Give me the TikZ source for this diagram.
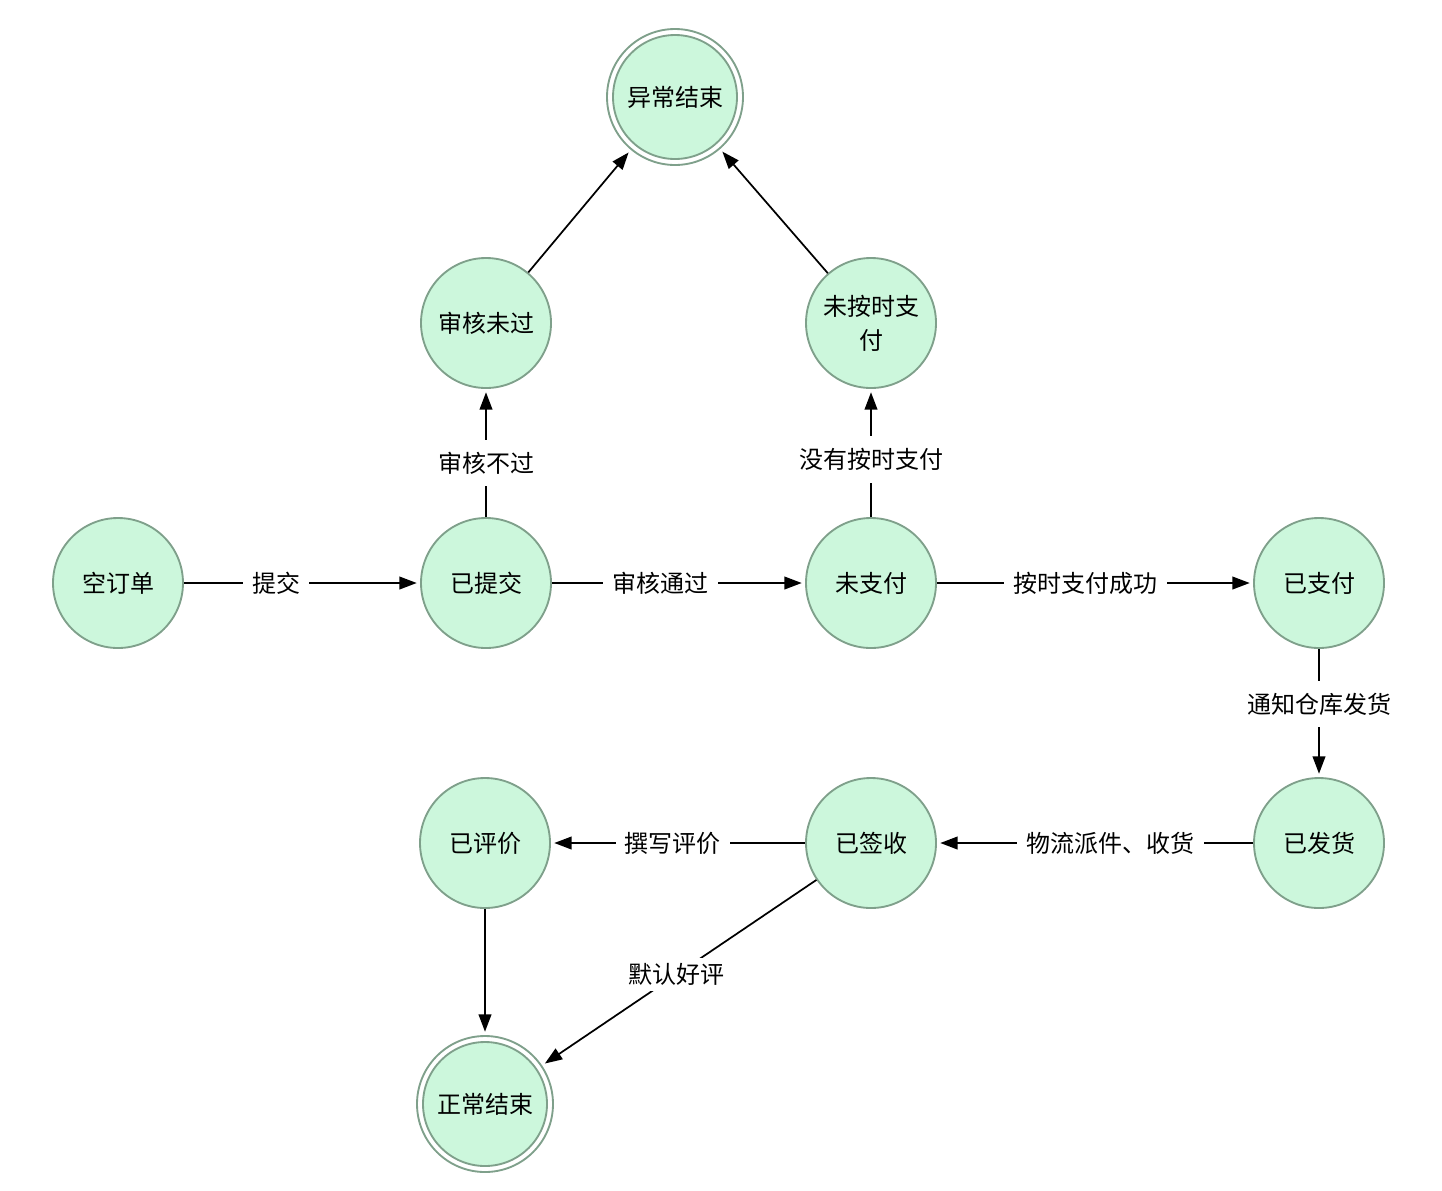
\documentclass[tikz,border=0pt]{standalone}
\usepackage{fontspec}
\setmainfont{Noto Sans CJK SC}
\usetikzlibrary{arrows.meta}
\definecolor{nodefill}{HTML}{CCF7DC}
\definecolor{nodeline}{HTML}{7FA08B}
\begin{document}
\begin{tikzpicture}[x=0.75pt,y=-0.75pt,
  every node/.style={font=\fontsize{18pt}{25.5pt}\selectfont},
  state/.style={circle,draw=nodeline,fill=nodefill,line width=1.4pt,minimum size=97.5pt,inner sep=0pt,align=center},
  outerring/.style={circle,draw=nodeline,fill=white,line width=1.4pt,minimum size=102pt,inner sep=0pt},
  innerstate/.style={state,minimum size=93pt},
  conn/.style={line width=1.3pt,-{Triangle[length=13pt,width=9.5pt]},shorten >=2.5pt},
  lbl/.style={fill=white,inner xsep=7pt,inner ysep=9pt}]
\useasboundingbox (0,0) rectangle (1442,1190);
\node[outerring] (ab) at (675,97) {};
\node[innerstate] (abin) at (675,97) {异常结束};
\node[state] (shwg) at (486,323) {审核未过};
\node[state] (wazf) at (871,323) {未按时支\\付};
\node[state] (kdd) at (118,583) {空订单};
\node[state] (ytj) at (486,583) {已提交};
\node[state] (wzf) at (871,583) {未支付};
\node[state] (yzf) at (1319,583) {已支付};
\node[state] (yfh) at (1319,843) {已发货};
\node[state] (yqs) at (871,843) {已签收};
\node[state] (ypj) at (485,843) {已评价};
\node[outerring] (zc) at (485,1104) {};
\node[innerstate] (zcin) at (485,1104) {正常结束};

\draw[conn] (kdd) -- node[lbl,pos=0.39] {提交} (ytj);
\draw[conn] (ytj) -- node[lbl,pos=0.43] {审核通过} (wzf);
\draw[conn] (wzf) -- node[lbl,pos=0.47] {按时支付成功} (yzf);
\draw[conn] (yzf) -- node[lbl,pos=0.43] {通知仓库发货} (yfh);
\draw[conn] (yfh) -- node[lbl,pos=0.45] {物流派件、收货} (yqs);
\draw[conn] (yqs) -- node[lbl,pos=0.52] {撰写评价} (ypj);
\draw[conn] (ypj) -- (zc);
\draw[conn] (yqs) -- node[lbl,pos=0.51,inner ysep=4pt] {默认好评} (zc);
\draw[conn] (ytj) -- node[lbl,pos=0.42] {审核不过} (shwg);
\draw[conn] (wzf) -- node[lbl,pos=0.45] {没有按时支付} (wazf);
\draw[conn] (shwg) -- (ab);
\draw[conn] (wazf) -- (ab);
\end{tikzpicture}
\end{document}
